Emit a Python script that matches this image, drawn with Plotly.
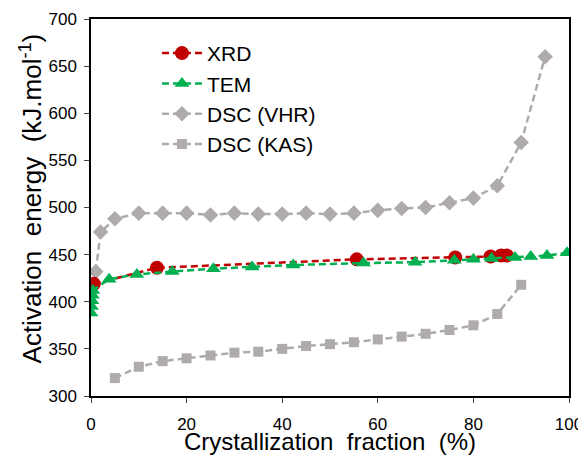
import plotly.graph_objects as go

# XRD
xrd_x = [0.6, 13.8, 55.6, 76.2, 83.6, 85.8, 87.0]
xrd_y = [419, 436, 445, 447, 448, 449, 449]

# TEM
tem_x = [0.0, 0.1, 0.2, 0.3, 0.4, 3.8, 9.6, 17.0, 25.6, 33.7, 42.3, 57.0, 67.8, 76.0, 80.0, 83.8, 88.7, 92.0, 95.4, 99.6]
tem_y = [388, 395, 401, 407, 412, 424, 429, 432, 435, 437, 439, 441, 442, 444, 445, 446, 447, 448, 449, 452]

# DSC (VHR)
vhr_x = [1, 2, 5, 10, 15, 20, 25, 30, 35, 40, 45, 50, 55, 60, 65, 70, 75, 80, 85, 90, 95]
vhr_y = [432, 474, 488, 494, 494, 494, 492, 494, 493, 493, 494, 493, 494, 497, 499, 500, 505, 510, 523, 569, 660]

# DSC (KAS)
kas_x = [5, 10, 15, 20, 25, 30, 35, 40, 45, 50, 55, 60, 65, 70, 75, 80, 85, 90]
kas_y = [319, 331, 337, 340, 343, 346, 347, 350, 353, 355, 357, 360, 363, 366, 370, 375, 387, 418]

x_ticks = [0, 20, 40, 60, 80, 100]
y_ticks = [300, 350, 400, 450, 500, 550, 600, 650, 700]

x_title = "Crystallization\u00a0 fraction\u00a0 (%)"
y_title = "Activation\u00a0 energy\u00a0 (kJ.mol<sup>-1</sup>)"

font = "Liberation Sans, Arial, sans-serif"
dash = "7px,4px"

fig = go.Figure()
fig.add_trace(go.Scatter(x=vhr_x, y=vhr_y, name="DSC (VHR)", mode="lines+markers",
                         line=dict(color="#AFABAB", width=2.5, dash=dash),
                         marker=dict(symbol="diamond", size=12, color="#AFABAB")))
fig.add_trace(go.Scatter(x=kas_x, y=kas_y, name="DSC (KAS)", mode="lines+markers",
                         line=dict(color="#AFABAB", width=2.5, dash=dash),
                         marker=dict(symbol="square", size=10, color="#AFABAB")))
fig.add_trace(go.Scatter(x=xrd_x, y=xrd_y, name="XRD", mode="lines+markers",
                         line=dict(color="#C00000", width=2.5, dash=dash),
                         marker=dict(symbol="circle", size=14, color="#C00000")))
fig.add_trace(go.Scatter(x=tem_x, y=tem_y, name="TEM", mode="lines+markers",
                         line=dict(color="#00B050", width=2.5, dash=dash),
                         marker=dict(symbol="triangle-up", size=13, color="#00B050")))

for tr, rank in zip(fig.data, [3, 4, 1, 2]):
    tr.legendrank = rank

# page body has an 8px margin, so the figure is sized to fill the rest of the window
fig.update_layout(
    width=578, height=449,
    margin=dict(l=83, r=17, t=11, b=61),
    paper_bgcolor="white", plot_bgcolor="white",
    font=dict(family=font, color="black"),
    legend=dict(x=0.138, y=0.963, xanchor="left", yanchor="top",
                font=dict(size=21, family=font),
                bgcolor="rgba(0,0,0,0)", itemwidth=40, tracegroupgap=0),
    annotations=[
        dict(text=x_title, xref="paper", yref="paper", x=0.5, y=-0.122,
             xanchor="center", yanchor="middle", showarrow=False,
             font=dict(size=24, family=font, color="black")),
        dict(text=y_title, xref="paper", yref="paper", x=-0.1255, y=0.524,
             xanchor="center", yanchor="middle", showarrow=False, textangle=-90,
             font=dict(size=26, family=font, color="black")),
    ],
)

fig.update_xaxes(range=[0, 100], tickvals=x_ticks, ticks="outside", ticklen=5,
                 ticklabelstandoff=7, automargin=False,
                 showline=True, linecolor="black", linewidth=1.5, mirror=True,
                 showgrid=False, zeroline=False, tickfont=dict(size=17))
fig.update_yaxes(range=[300, 700], tickvals=y_ticks, ticks="outside", ticklen=5,
                 ticklabelstandoff=4, automargin=False,
                 showline=True, linecolor="black", linewidth=1.5, mirror=True,
                 showgrid=False, zeroline=False, tickfont=dict(size=17))

fig.write_html("out.html")
